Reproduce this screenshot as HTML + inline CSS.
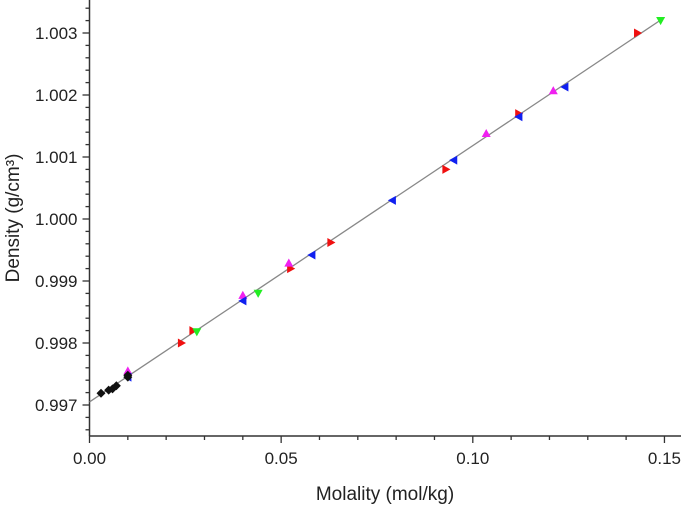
<!DOCTYPE html>
<html><head><meta charset="utf-8"><style>
body{margin:0;background:#fff;}
svg{display:block;font-family:"Liberation Sans",Arial,sans-serif;}
</style></head><body>
<svg id="chart" width="685" height="508" viewBox="0 0 685 508"></svg>
<script>
const xTicks=[0,0.05,0.10,0.15];
const xTickLabels=["0.00","0.05","0.10","0.15"];
const yTicks=[0.997,0.998,0.999,1.000,1.001,1.002,1.003];
const yTickLabels=["0.997","0.998","0.999","1.000","1.001","1.002","1.003"];
const blackX=[0.003,0.005,0.006,0.007,0.010,0.010];
const blackY=[0.99719,0.99724,0.99726,0.99731,0.99745,0.99748];
const magentaX=[0.010,0.040,0.052,0.1035,0.121];
const magentaY=[0.99755,0.99877,0.99929,1.00138,1.00207];
const blueX=[0.010,0.040,0.058,0.079,0.095,0.112,0.124];
const blueY=[0.99745,0.99868,0.99942,1.00030,1.00095,1.00165,1.00213];
const redX=[0.024,0.027,0.0525,0.063,0.093,0.112,0.143];
const redY=[0.99800,0.99820,0.99920,0.99962,1.00080,1.00170,1.00300];
const greenX=[0.028,0.044,0.149];
const greenY=[0.99818,0.99880,1.00320];
const fitX=[0,0.15];
const fitY=[0.99705,1.00325];

const X0=89.5,XS=3833,Y0=405,YS=62000,AXB=436,AXR=681;
const sx=v=>X0+v*XS, sy=v=>Y0-(v-0.997)*YS;
const svg=document.getElementById('chart');
const NS='http://www.w3.org/2000/svg';
function mk(t,a,p){const e=document.createElementNS(NS,t);for(const k in a)e.setAttribute(k,a[k]);(p||svg).appendChild(e);return e;}

// axes
let e=mk('line',{x1:X0,y1:0,x2:X0,y2:AXB,stroke:'#333','stroke-width':1.5});


e=mk('line',{x1:X0,y1:AXB,x2:AXR,y2:AXB,stroke:'#333','stroke-width':1.5});


// minor ticks
for(let i=0;i<=15;i++){const v=i*0.01;const major=i%5===0;
 e=mk('line',{x1:sx(v),y1:AXB,x2:sx(v),y2:AXB+(major?7:4),stroke:'#333','stroke-width':1.3});
 
 }
for(let i=-2;i<=32;i++){const v=0.997+i*0.0002;const y=sy(v);if(y<1||y>AXB-1)continue;const major=i%5===0;
 e=mk('line',{x1:X0,y1:y,x2:X0-(major?7:4),y2:y,stroke:'#333','stroke-width':1.3});
 
 }
xTicks.forEach((v,i)=>{e=mk('text',{x:sx(v),y:AXB+28,'text-anchor':'middle','font-size':17,fill:'#222'});e.textContent=xTickLabels[i];
 
 });
yTicks.forEach((v,i)=>{e=mk('text',{x:X0-12,y:sy(v)+6,'text-anchor':'end','font-size':17,fill:'#222'});e.textContent=yTickLabels[i];
 
 });
e=mk('text',{x:385,y:500,'text-anchor':'middle','font-size':19,fill:'#222'});e.textContent='Molality (mol/kg)';


e=mk('text',{x:0,y:0,'text-anchor':'middle','font-size':19,fill:'#222',transform:'translate(19,218) rotate(-90)'});e.textContent='Density (g/cm³)';


// fit line
e=mk('line',{x1:sx(fitX[0]),y1:sy(fitY[0]),x2:sx(fitX[1]),y2:sy(fitY[1]),stroke:'#888','stroke-width':1.3});


// markers
function marker(x,y,shape,color,name){const s=4.5;let pts;
 if(shape==='diamond')pts=[[0,-s],[s,0],[0,s],[-s,0]];
 if(shape==='up')pts=[[0,-s],[s,s*0.8],[-s,s*0.8]];
 if(shape==='down')pts=[[0,s],[s,-s*0.8],[-s,-s*0.8]];
 if(shape==='left')pts=[[-s,0],[s*0.8,-s],[s*0.8,s]];
 if(shape==='right')pts=[[s,0],[-s*0.8,-s],[-s*0.8,s]];
 const el=mk('polygon',{points:pts.map(p=>(x+p[0])+','+(y+p[1])).join(' '),fill:color});
 
 }
redX.forEach((v,i)=>marker(sx(v),sy(redY[i]),'right','#f01010','point-red'));
greenX.forEach((v,i)=>marker(sx(v),sy(greenY[i]),'down','#22ee22','point-green'));
magentaX.forEach((v,i)=>marker(sx(v),sy(magentaY[i]),'up','#f020f0','point-magenta'));
blueX.forEach((v,i)=>marker(sx(v),sy(blueY[i]),'left','#1020f0','point-blue'));
blackX.forEach((v,i)=>marker(sx(v),sy(blackY[i]),'diamond','#111','point-black'));
</script>
</body></html>
